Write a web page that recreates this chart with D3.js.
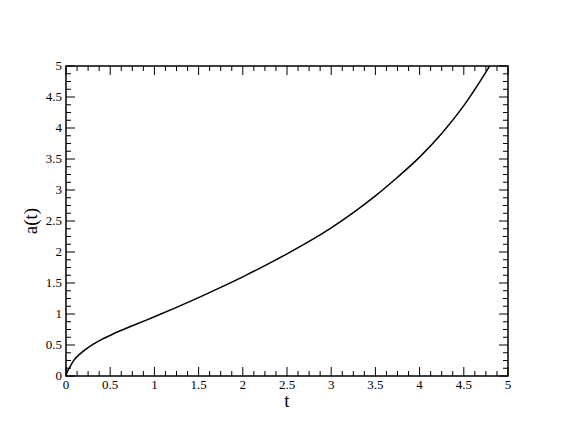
<!DOCTYPE html>
<html lang="en">
<head>
    <meta charset="UTF-8">
    <title>a(t)</title>
    <script src="https://d3js.org/d3.v7.min.js"></script>
    <style>
        body {
            margin: 0;
            background: #fff;
        }
        .tick-label {
            font-family: "Liberation Serif", "Times New Roman", serif;
            font-size: 13px;
            fill: #000;
        }
        .axis-title {
            font-family: "Liberation Serif", "Times New Roman", serif;
            font-size: 19px;
            fill: #000;
        }
        .curve {
            fill: none;
            stroke: #000;
            stroke-width: 1.5px;
        }
    </style>
</head>
<body>

<svg width="572" height="442"></svg>

<script>
    // values
    const tValues = [0, 0.01, 0.025, 0.05, 0.1, 0.2, 0.3, 0.4, 0.5, 0.6, 0.75, 1, 1.25, 1.5, 1.75, 2,
                     2.25, 2.5, 2.75, 3, 3.25, 3.5, 3.75, 4, 4.25, 4.5, 4.75, 4.8];
    const aValues = [0, 0.053, 0.098, 0.16, 0.275, 0.405, 0.505, 0.587, 0.655, 0.721, 0.81, 0.955, 1.107, 1.265, 1.43, 1.60,
                     1.78, 1.97, 2.17, 2.39, 2.635, 2.905, 3.205, 3.53, 3.91, 4.36, 4.90, 5.02];
    const xTicks = [0, 0.5, 1, 1.5, 2, 2.5, 3, 3.5, 4, 4.5, 5];
    const yTicks = [0, 0.5, 1, 1.5, 2, 2.5, 3, 3.5, 4, 4.5, 5];

    const svg = d3.select("svg");
    const plotLeft = 66, plotRight = 508, plotTop = 66, plotBottom = 376;

    const x = d3.scaleLinear().domain([0, 5]).range([plotLeft, plotRight]);
    const y = d3.scaleLinear().domain([0, 5]).range([plotBottom, plotTop]);

    // minor ticks every 0.125
    const minor = d3.range(0, 5.0001, 0.125).filter(v => Math.abs(v * 2 - Math.round(v * 2)) > 1e-6);

    // the curve, clipped to the plot frame
    svg.append("clipPath").attr("id", "clip")
      .append("rect")
        .attr("x", plotLeft).attr("y", plotTop)
        .attr("width", plotRight - plotLeft).attr("height", plotBottom - plotTop);

    const data = tValues.map((t, i) => [t, aValues[i]]);
    svg.append("path")
        .datum(data)
        .attr("class", "curve")
        .attr("clip-path", "url(#clip)")
        .attr("d", d3.line()
            .x(d => x(d[0]))
            .y(d => y(d[1]))
            .curve(d3.curveCatmullRom.alpha(0.5)));

    // ticks pointing inward on all four sides
    const g = svg.append("g").attr("stroke", "#000").attr("stroke-width", 1);
    const major = 9, small = 5;

    function xTick(v, len) {
        g.append("line").attr("x1", x(v)).attr("x2", x(v)).attr("y1", plotBottom).attr("y2", plotBottom - len);
        g.append("line").attr("x1", x(v)).attr("x2", x(v)).attr("y1", plotTop).attr("y2", plotTop + len);
    }
    function yTick(v, len) {
        g.append("line").attr("y1", y(v)).attr("y2", y(v)).attr("x1", plotLeft).attr("x2", plotLeft + len);
        g.append("line").attr("y1", y(v)).attr("y2", y(v)).attr("x1", plotRight).attr("x2", plotRight - len);
    }
    xTicks.forEach(v => xTick(v, major));
    yTicks.forEach(v => yTick(v, major));
    minor.forEach(v => { xTick(v, small); yTick(v, small); });

    // frame
    svg.append("rect")
        .attr("x", plotLeft).attr("y", plotTop)
        .attr("width", plotRight - plotLeft).attr("height", plotBottom - plotTop)
        .attr("fill", "none").attr("stroke", "#000").attr("stroke-width", 1.5);

    // tick labels
    svg.selectAll(".xl")
      .data(xTicks)
      .enter().append("text")
        .attr("class", "tick-label")
        .attr("x", d => x(d))
        .attr("y", 389)
        .attr("text-anchor", "middle")
        .text(d => d3.format("")(d));

    svg.selectAll(".yl")
      .data(yTicks)
      .enter().append("text")
        .attr("class", "tick-label")
        .attr("x", 62)
        .attr("y", d => y(d))
        .attr("dy", "0.33em")
        .attr("text-anchor", "end")
        .text(d => d3.format("")(d));

    // axis titles
    svg.append("text")
        .attr("class", "axis-title")
        .attr("x", (plotLeft + plotRight) / 2)
        .attr("y", 407)
        .attr("text-anchor", "middle")
        .text("t");

    svg.append("text")
        .attr("class", "axis-title")
        .attr("transform", `translate(37,${(plotTop + plotBottom) / 2}) rotate(-90)`)
        .attr("text-anchor", "middle")
        .text("a(t)");
</script>

</body>
</html>
